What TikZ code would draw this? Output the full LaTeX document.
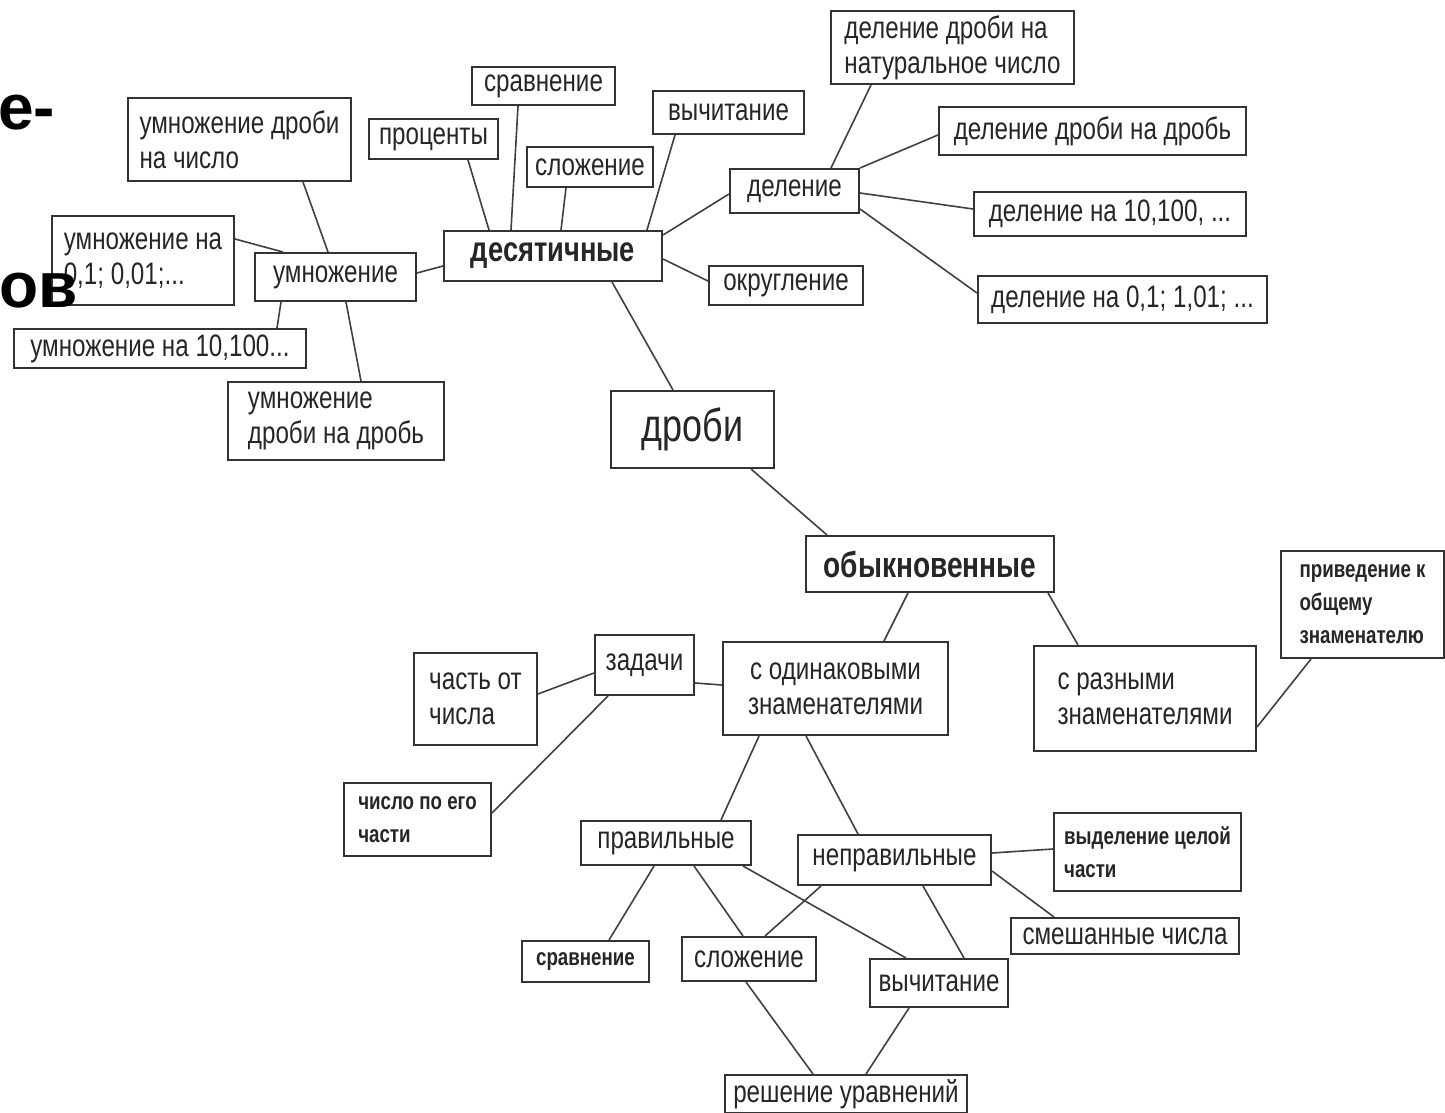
\documentclass[tikz,border=0pt]{standalone}
\usepackage{fontspec}
\setmainfont{Liberation Sans}[FakeStretch=0.78]
\newfontfamily\titlefont{Liberation Sans}
\usetikzlibrary{calc}
\newcommand\mainsz{\fontsize{31}{35}\selectfont}
\newcommand\smallsz{\fontsize{24}{33}\selectfont\bfseries}
\tikzset{
  box/.style={draw=black!80, line width=2pt, inner sep=0pt, anchor=north west, font=\mainsz, text=black!85},
  smallbox/.style={box, font=\smallsz},
  boldbox/.style={box, font=\fontsize{35}{40}\selectfont\bfseries},
  lnk/.style={draw=black!75, line width=1.6pt},
  frag/.style={font=\titlefont\fontsize{64}{70}\selectfont\bfseries, anchor=base west, inner sep=0pt, text=black}
}
\begin{document}
\begin{tikzpicture}[x=1pt,y=-1pt]
\useasboundingbox (0,0) rectangle (1445,1113);
\clip (0,0) rectangle (1445,1113);
\fill[white] (0,0) rectangle (1445,1113);

% --- decimal branch ---
\node[box, minimum width=223pt, minimum height=83pt, align=left] (umd) at (127,97) {умножение дроби\\на число};
\node[box, minimum width=129pt, minimum height=40pt] (proc) at (368,118) {проценты};
\node[box, minimum width=143pt, minimum height=38pt] (sravA) at (471,66) {сравнение};
\node[box, minimum width=126pt, minimum height=40pt] (slozhA) at (526,146) {сложение};
\node[box, minimum width=151pt, minimum height=43pt] (vychA) at (652,90) {вычитание};
\node[box, minimum width=243pt, minimum height=73pt, align=left] (deldn) at (830,10) {деление дроби на\\натуральное число};
\node[box, minimum width=307pt, minimum height=48pt] (deldd) at (938,106) {деление дроби на дробь};
\node[box, minimum width=129pt, minimum height=44pt] (del) at (729,168) {деление};
\node[box, minimum width=272pt, minimum height=44pt] (delten) at (973,191) {деление на 10,100, ...};
\node[box, minimum width=289pt, minimum height=47pt] (delone) at (977,275) {деление на 0,1; 1,01; ...};
\node[box, minimum width=182pt, minimum height=89pt, align=left] (umnone) at (51,215) {умножение на\\0,1; 0,01;...};
\node[box, minimum width=161pt, minimum height=48pt] (umn) at (254,252) {умножение};
\node[boldbox, minimum width=218pt, minimum height=50pt] (dec) at (443,230) {десятичные};
\node[box, minimum width=154pt, minimum height=39pt] (okr) at (708,265) {округление};
\node[box, minimum width=292pt, minimum height=39pt] (umnten) at (13,328) {умножение на 10,100...};
\node[box, minimum width=216pt, minimum height=78pt, align=left] (umndd) at (227,381) {умножение\\дроби на дробь};
\node[box, font=\fontsize{46}{50}\selectfont, minimum width=163pt, minimum height=77pt] (drobi) at (610,390) {дроби};

% --- common fractions branch ---
\node[boldbox, font=\fontsize{36}{40}\selectfont\bfseries, minimum width=248pt, minimum height=56pt] (obyk) at (805,535) {обыкновенные};
\node[smallbox, minimum width=163pt, minimum height=107pt, align=left] (priv) at (1280,550) {приведение к\\общему\\знаменателю};
\node[box, minimum width=222pt, minimum height=105pt, align=left] (sraz) at (1033,645) {с разными\\знаменателями};
\node[box, minimum width=99pt, minimum height=60pt] (zad) at (594,634) {задачи};
\node[box, minimum width=123pt, minimum height=92pt, align=left] (chast) at (413,652) {часть от\\числа};
\node[box, minimum width=225pt, minimum height=93pt, align=center] (sodin) at (722,641) {с одинаковыми\\знаменателями};
\node[smallbox, minimum width=147pt, minimum height=73pt, align=left] (chislo) at (343,782) {число по его\\части};
\node[box, minimum width=170pt, minimum height=44pt] (prav) at (580,820) {правильные};
\node[box, minimum width=193pt, minimum height=50pt] (neprav) at (797,834) {неправильные};
\node[smallbox, minimum width=187pt, minimum height=78pt, align=left] (vydel) at (1053,812) {выделение целой\\части};
\node[box, minimum width=228pt, minimum height=36pt] (smesh) at (1010,917) {смешанные числа};
\node[smallbox, minimum width=127pt, minimum height=41pt] (sravB) at (521,940) {сравнение};
\node[box, minimum width=134pt, minimum height=44pt] (slozhB) at (681,936) {сложение};
\node[box, minimum width=138pt, minimum height=48pt] (vychB) at (869,958) {вычитание};
\node[box, minimum width=242pt, minimum height=38pt] (resh) at (724,1074) {решение уравнений};

% --- connectors ---
\draw[lnk] ([xshift=63.5]umd.south) -- ([xshift=-7.5]umn.north);
\draw[lnk] ([yshift=21.5]umnone.east) -- ([xshift=-52.5]umn.north);
\draw[lnk] ([xshift=-54.5]umn.south) -- ([xshift=117]umnten.north);
\draw[lnk] ([xshift=10.5]umn.south) -- ([xshift=25]umndd.north);
\draw[lnk] ([yshift=4]umn.east) -- ([yshift=-10]dec.west);
\draw[lnk] ([xshift=34.5]proc.south) -- ([xshift=-64]dec.north);
\draw[lnk] ([xshift=-25.5]sravA.south) -- ([xshift=-42]dec.north);
\draw[lnk] ([xshift=-24]slozhA.south) -- ([xshift=8]dec.north);
\draw[lnk] ([xshift=-53.5]vychA.south) -- ([xshift=94]dec.north);
\draw[lnk] ([yshift=21]dec.east) -- ([yshift=-3]del.west);
\draw[lnk] ([yshift=-3]dec.east) -- ([yshift=4.5]okr.west);
\draw[lnk] ([xshift=59]dec.south) -- ([xshift=-19.5]drobi.north);
\draw[lnk] ([xshift=36.5]del.north) -- ([xshift=-81.5]deldn.south);
\draw[lnk] (del.north east) -- ([yshift=-4]deldd.west);
\draw[lnk] ([yshift=-2]del.east) -- ([yshift=5]delten.west);
\draw[lnk] ([yshift=-18]del.east) -- ([yshift=6.5]delone.west);
\draw[lnk] ([xshift=58.5]drobi.south) -- ([xshift=-103]obyk.north);
\draw[lnk] ([xshift=-22]obyk.south) -- ([xshift=48.5]sodin.north);
\draw[lnk] ([xshift=118]obyk.south) -- ([xshift=-67]sraz.north);
\draw[lnk] ([yshift=-28.5]sraz.east) -- ([xshift=-51.5]priv.south);
\draw[lnk] ([yshift=3.5]sodin.west) -- ([yshift=-18]zad.east);
\draw[lnk] ([yshift=-8]zad.west) -- ([yshift=5]chast.east);
\draw[lnk] ([xshift=-36.5]zad.south) -- ([yshift=6.5]chislo.east);
\draw[lnk] ([xshift=-76.5]sodin.south) -- ([xshift=55]prav.north);
\draw[lnk] ([xshift=-29.5]sodin.south) -- ([xshift=-36.5]neprav.north);
\draw[lnk] ([yshift=7]neprav.east) -- ([yshift=3]vydel.west);
\draw[lnk] ([yshift=-11]neprav.east) -- ([xshift=-71]smesh.north);
\draw[lnk] ([xshift=-12]prav.south) -- ([xshift=23.5]sravB.north);
\draw[lnk] ([xshift=28]prav.south) -- ([xshift=-6]slozhB.north);
\draw[lnk] ([xshift=77]prav.south) -- ([xshift=-33]vychB.north);
\draw[lnk] ([xshift=-73.5]neprav.south) -- ([xshift=16]slozhB.north);
\draw[lnk] ([xshift=28.5]neprav.south) -- ([xshift=25]vychB.north);
\draw[lnk] ([xshift=-3]slozhB.south) -- ([xshift=-33]resh.north);
\draw[lnk] ([xshift=-30]vychB.south) -- ([xshift=20]resh.north);

% --- cut-off title fragments ---
\node[frag] (fragA) at (-2,130) {е-};
\node[frag] (fragB) at (-1,307) {ов};
\end{tikzpicture}
\end{document}
